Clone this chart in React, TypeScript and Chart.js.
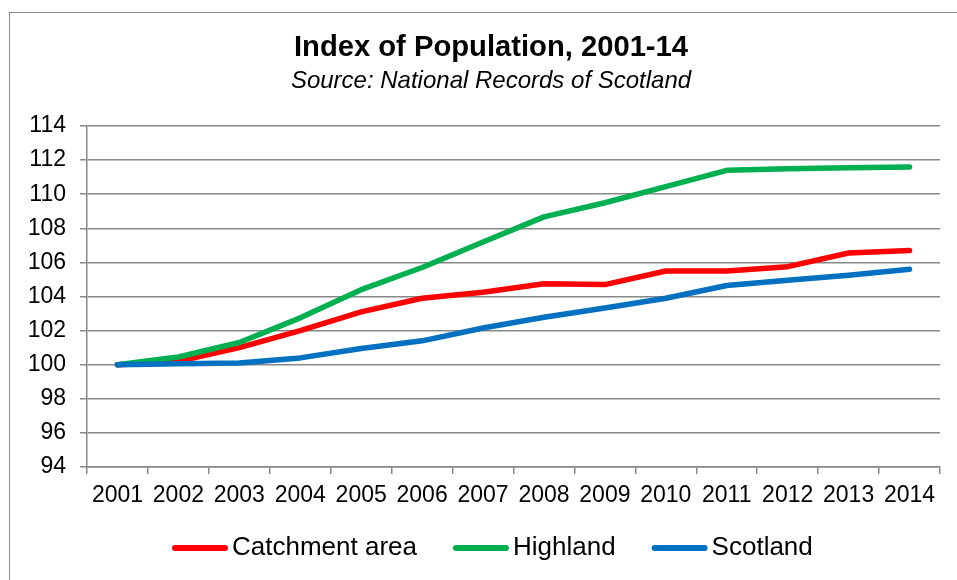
import React, { useEffect, useRef } from "react";
import { Chart, registerables } from "chart.js";

Chart.register(...registerables);

const years = ["2001", "2002", "2003", "2004", "2005", "2006", "2007", "2008", "2009", "2010", "2011", "2012", "2013", "2014"];
const catchment = [100, 100.2, 101.0, 102.0, 103.1, 103.9, 104.25, 104.75, 104.7, 105.5, 105.5, 105.75, 106.55, 106.7];
const highland = [100, 100.45, 101.3, 102.75, 104.4, 105.7, 107.2, 108.67, 109.5, 110.45, 111.4, 111.5, 111.55, 111.6];
const scotland = [100, 100.06, 100.1, 100.4, 100.95, 101.4, 102.15, 102.78, 103.33, 103.9, 104.65, 104.95, 105.25, 105.6];
const seriesNames = ["Catchment area", "Highland", "Scotland"];
const seriesColors = ["#FF0000", "#00B050", "#0070C0"];
const yMin = 94;
const yMax = 114;
const yStep = 2;
const titleText = "Index of Population, 2001-14";
const subtitleText = "Source: National Records of Scotland";

const FONT = '"Liberation Sans", Arial, Helvetica, sans-serif';
const GRID = "#888888";
const CANVAS_W = 980;
const CANVAS_H = 580;
const MARKER_GAP = 10;

const legendMarkers = {
  id: "legendMarkers",
  afterDraw(chart: any) {
    const legend = chart.legend;
    if (!legend || !legend.legendHitBoxes) return;
    const ctx = chart.ctx;
    ctx.save();
    ctx.lineCap = "round";
    ctx.lineWidth = 6;
    legend.legendHitBoxes.forEach((hb: any, i: number) => {
      const item = legend.legendItems[i];
      if (!item) return;
      const y = hb.top + hb.height / 2;
      const x0 = hb.left + MARKER_GAP;
      ctx.strokeStyle = item.markerColor;
      ctx.beginPath();
      ctx.moveTo(x0 + 3, y);
      ctx.lineTo(x0 + 53, y);
      ctx.stroke();
    });
    ctx.restore();
  },
};

export default function App() {
  const ref = useRef<HTMLCanvasElement>(null);

  useEffect(() => {
    const seriesData = [catchment, highland, scotland];
    const chart = new Chart(ref.current as HTMLCanvasElement, {
      type: "line",
      data: {
        labels: years,
        datasets: seriesData.map((d, i) => ({
          label: seriesNames[i],
          data: d,
          borderColor: seriesColors[i],
          backgroundColor: seriesColors[i],
          borderWidth: 5.5,
          pointRadius: 0,
          pointHoverRadius: 0,
          tension: 0,
          borderJoinStyle: "round" as const,
          borderCapStyle: "round" as const,
          fill: false,
          order: 2 - i,
          xAxisID: "x",
          yAxisID: "y",
        })),
      },
      options: {
        responsive: false,
        devicePixelRatio: 1,
        animation: false,
        layout: { padding: { left: 20, right: 18, top: 0, bottom: 9 } },
        plugins: {
          title: {
            display: true,
            text: titleText,
            color: "#000",
            font: { family: FONT, size: 29.2, weight: "bold" },
            padding: { top: 30.6, bottom: 1 },
          },
          subtitle: {
            display: true,
            text: subtitleText,
            color: "#000",
            font: { family: FONT, size: 24, style: "italic", weight: "normal" },
            padding: { top: 0, bottom: 30.6 },
          },
          legend: {
            display: true,
            position: "bottom",
            labels: {
              boxWidth: 47 + MARKER_GAP,
              boxHeight: 6,
              padding: 26,
              color: "#000",
              font: { family: FONT, size: 26 },
              generateLabels: (c: any) =>
                c.data.datasets.map((ds: any, i: number, arr: any[]) => ({
                  text: i === arr.length - 1 ? ds.label + " " : ds.label,
                  fillStyle: "rgba(0,0,0,0)",
                  strokeStyle: "rgba(0,0,0,0)",
                  lineWidth: 0,
                  hidden: false,
                  datasetIndex: i,
                  fontColor: "#000",
                  markerColor: ds.borderColor,
                })),
            },
          },
          tooltip: { enabled: false },
        },
        scales: {
          x: {
            type: "category",
            offset: true,
            grid: {
              offset: true,
              drawOnChartArea: false,
              drawTicks: true,
              tickLength: 7,
              color: GRID,
              lineWidth: 1.5,
            },
            border: { display: true, color: GRID, width: 1.5 },
            ticks: {
              color: "#000",
              font: { family: FONT, size: 23 },
              padding: 7.5,
              maxRotation: 0,
              minRotation: 0,
              autoSkip: false,
            },
            afterFit: (s: any) => {
              s.height = 42;
            },
          },
          y: {
            position: "left",
            min: yMin,
            max: yMax,
            ticks: {
              stepSize: yStep,
              color: "#000",
              font: { family: FONT, size: 23 },
              padding: 14,
            },
            grid: {
              color: GRID,
              lineWidth: 1.5,
              drawTicks: true,
              tickLength: 7,
            },
            border: { display: true, color: GRID, width: 1.5 },
            afterFit: (s: any) => {
              s.width = 67;
            },
          },
          ySpacer: {
            type: "linear",
            position: "right",
            display: true,
            grid: { display: false, drawTicks: false },
            border: { display: false },
            ticks: { display: false },
            afterFit: (s: any) => {
              s.width = 22;
            },
          },
        },
      } as any,
      plugins: [legendMarkers],
    });
    return () => chart.destroy();
  }, []);

  return (
    <div
      style={{
        position: "fixed",
        left: 0,
        top: 0,
        width: 957,
        height: 580,
        overflow: "hidden",
        background: "#fff",
      }}
    >
      <div
        style={{
          position: "absolute",
          left: 9,
          top: 12,
          width: 1000,
          height: 1000,
          border: "1px solid #8c8c8c",
          boxSizing: "border-box",
        }}
      />
      <canvas
        ref={ref}
        width={CANVAS_W}
        height={CANVAS_H}
        style={{ position: "absolute", left: 0, top: 0, width: CANVAS_W, height: CANVAS_H }}
      />
    </div>
  );
}
